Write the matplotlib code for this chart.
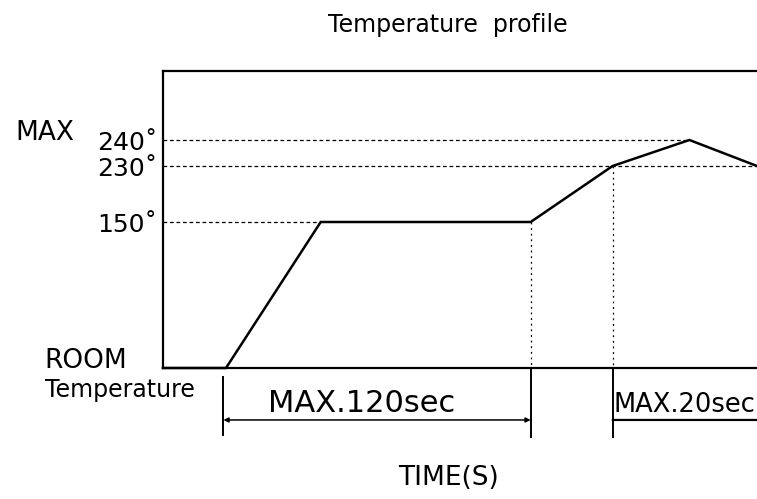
import numpy as np
import matplotlib
matplotlib.use('Agg')
import matplotlib.pyplot as plt
import matplotlib.transforms as mtransforms

# schematic reflow profile, time in s and temperature in deg C
time = [-24.6, 0, 37, 119, 151, 181, 207.4]
temp = [25, 25, 150, 150, 230, 240, 230]

room = 25
levels = [150, 230, 240]
level_labels = ['150˚', '230˚', '240˚']

# timing spans marked under the axis: (start, end, label)
spans = [(-1, 119, 'MAX.120sec'), (151, 207.4, 'MAX.20sec')]

# drawing is not to scale, heights of the levels as drawn
t_knots = [25, 150, 230, 240, 268]
h_knots = [0, 146, 202, 228, 297]


def fwd(y):
    return np.interp(y, t_knots, h_knots)


def inv(h):
    return np.interp(h, h_knots, t_knots)


fig = plt.figure(figsize=(7.57, 4.99), dpi=100)
ax = fig.add_axes([163/757, 131/499, 594/757, 297/499])
ax.set_yscale('function', functions=(fwd, inv))
ax.set_xlim(time[0], time[-1])
ax.set_ylim(t_knots[0], t_knots[-1])

for s in ['left', 'top', 'bottom']:
    ax.spines[s].set_linewidth(1.6)
ax.spines['right'].set_visible(False)

ax.plot(time, temp, color='k', lw=1.8, solid_joinstyle='miter', clip_on=False)

# guide lines from the axis to the profile
dash = (0, (3, 2.2))
ax.plot([time[0], time[2]], [150, 150], color='k', lw=0.9, ls=dash)
ax.plot([time[0], time[-1]], [230, 230], color='k', lw=0.9, ls=dash)
ax.plot([time[0], time[5]], [240, 240], color='k', lw=0.9, ls=dash)
ax.plot([time[3], time[3]], [150, room], color='k', lw=0.9, ls=(0, (1.5, 3)))
ax.plot([time[4], time[4]], [230, room], color='k', lw=0.9, ls=(0, (1.5, 3)))

ax.set_xticks([])
ax.set_yticks(levels)
ax.set_yticklabels(level_labels, fontsize=18)
ax.tick_params(axis='y', length=0, pad=4)

tr = mtransforms.blended_transform_factory(ax.transData, ax.transAxes)
tr_y = mtransforms.blended_transform_factory(ax.transAxes, ax.transData)

# extension lines and dimension arrows below the axis
ax.plot([spans[0][0]] * 2, [-0.03, -0.225], transform=tr, color='k', lw=1.4, clip_on=False)
for x0 in [spans[0][1], spans[1][0]]:
    ax.plot([x0, x0], [-0.007, -0.232], transform=tr, color='k', lw=1.4, clip_on=False)

x0, x1, lab = spans[0]
ax.annotate('', xy=(x0, -0.175), xytext=(x1, -0.175), xycoords=tr, textcoords=tr,
            arrowprops=dict(arrowstyle='<|-|>', color='k', lw=1.1,
                            mutation_scale=7, shrinkA=0, shrinkB=0))
ax.text(53, -0.148, lab, transform=tr, ha='center', va='baseline', fontsize=22)

x0, x1, lab = spans[1]
ax.annotate('', xy=(x0, -0.175), xytext=(x1 + 5, -0.175), xycoords=tr, textcoords=tr,
            arrowprops=dict(arrowstyle='<|-', color='k', lw=1.6,
                            mutation_scale=7, shrinkA=0, shrinkB=0))
ax.text(x0 + 0.3, -0.148, lab, transform=tr, ha='left', va='baseline', fontsize=18.5,
        clip_on=False)

ax.text(-0.249, 240, 'MAX', transform=tr_y, ha='left', va='baseline', fontsize=19)
ax.text(-0.199, room, 'ROOM', transform=tr_y, ha='left', va='baseline', fontsize=19)
ax.text(-0.199, -0.098, 'Temperature', transform=ax.transAxes, ha='left',
        va='baseline', fontsize=17)

fig.text(0.592, 0.936, 'Temperature  profile', ha='center', va='baseline', fontsize=17)
fig.text(0.592, 0.042, 'TIME(S)', ha='center', va='center', fontsize=19)

fig.savefig('out.png', dpi=100)
